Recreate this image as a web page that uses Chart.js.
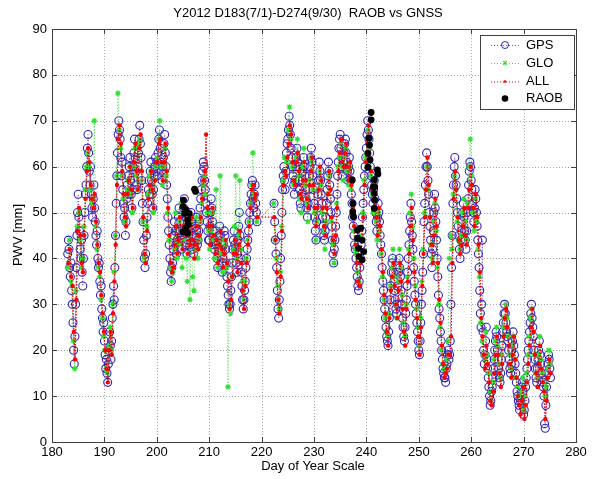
<!DOCTYPE html>
<html>
<head>
<meta charset="utf-8">
<script src="https://cdn.jsdelivr.net/npm/chart.js@4.4.0/dist/chart.umd.min.js"></script>
<style>
  html, body { margin: 0; padding: 0; background: #fff; }
  #wrap { width: 598px; height: 479px; }
</style>
</head>
<body>
<div id="wrap"><canvas id="pwvChart" width="598" height="479"></canvas></div>
<script>
// GPS every 3 hours, GLO and ALL every 6 hours
const gpsStart = 183.0, gpsStep = 0.125;
const gloStart = 183.08, gloStep = 0.25;
const allStart = 183.16, allStep = 0.25;

// GPS PWV [mm], 8 values per day from D183
const gpsPwv = [
  41,44,42,38,36,39,33,30, 26,20,17,23,30,38,45,50, 54,49,46,42,40,44,37,34,   // 183-185
  40,45,50,54,56,60,64,67, 63,59,56,60,54,51,49,53, 56,51,48,45,43,46,40,38,   // 186-188
  39,35,32,34,29,27,24,26, 22,19,16,18,15,13,17,20, 24,21,18,22,27,30,34,31,   // 189-191
  38,45,52,58,63,67,70,68, 66,62,58,61,55,52,49,51, 45,48,53,56,58,54,60,62,   // 192-194
  57,54,51,55,60,63,66,62, 59,56,55,60,63,66,69,65, 62,57,52,48,44,40,38,41,   // 195-197
  45,49,52,55,57,54,59,61, 57,54,51,55,58,60,62,59, 61,58,63,66,68,64,61,59,   // 198-200
  57,60,62,65,67,63,60,56, 53,49,46,43,40,37,35,38, 39,42,45,48,46,43,41,44,   // 201-203
  46,49,51,48,46,44,42,45, 48,51,53,49,46,43,41,44, 47,45,43,47,50,48,45,42,   // 204-206
  41,43,45,47,49,46,43,44, 46,48,51,53,55,57,59,61, 60,57,55,52,50,48,46,44,   // 207-209
  44,47,50,53,51,48,46,43, 42,44,46,43,40,38,42,45, 47,45,42,39,37,40,43,46,   // 210-212
  45,42,39,36,34,32,30,29, 30,33,36,39,42,44,46,43, 42,39,37,41,44,47,50,45,   // 213-215
  40,37,34,31,29,31,33,35, 38,40,42,44,46,48,50,52, 54,56,57,53,51,54,56,52,   // 216-218
  50,48,null,null,null,null,null,null, null,null,null,null,null,null,null,null, // 219-220
  null,null,null,null,null,null,null,null, null,null,null,52,48,44,41,38,       // 221-222
  33,29,27,31,35,40,45,50, 55,58,60,57,55,59,63,65, 66,68,71,69,67,64,62,60,   // 223-225
  58,56,54,57,60,62,64,61, 60,57,55,52,51,54,57,59, 62,60,58,55,53,51,49,52,   // 226-228
  55,58,60,62,64,61,58,55, 52,49,46,44,48,51,54,57, 61,59,57,54,52,49,47,45,   // 229-231
  44,46,49,52,55,58,61,59, 56,53,50,47,44,41,39,42, 44,47,50,54,58,61,64,66,   // 232-234
  67,64,62,60,58,61,63,65, 66,63,61,59,57,60,62,59, 57,54,52,49,47,45,43,42,   // 235-237
  40,38,36,34,33,35,38,40, 43,46,49,52,55,58,60,62, 64,67,70,68,66,63,60,58,   // 238-240
  56,54,52,55,57,53,50,48, 46,49,52,50,48,45,43,41, 38,35,33,31,29,27,25,23,   // 241-243
  22,21,24,27,31,34,37,39, 40,37,35,33,31,29,28,30, 34,37,40,38,36,33,30,27,   // 244-246
  25,23,22,25,28,31,34,37, 40,43,46,49,52,48,45,42, 38,35,32,30,28,26,24,22,   // 247-249
  20,19,22,26,30,33,37,41, 48,52,56,60,63,60,57,54, 50,47,44,41,38,42,46,50,   // 250-252
  54,51,48,44,40,36,32,29, 27,24,22,20,18,16,15,14, 14,13,16,17,19,20,18,19,   // 253-255
  22,30,38,45,52,56,60,62, 58,56,53,50,47,45,42,40, 44,46,48,50,52,49,46,44,   // 256-258
  42,46,50,53,56,59,61,60, 57,55,52,50,48,51,55,53, 50,47,44,41,38,33,28,25,   // 259-261
  30,44,24,20,17,19,22,25, 18,16,14,12,10,8,9,11, 12,14,16,18,20,22,24,23,     // 262-264
  20,18,16,14,13,15,18,21, 24,26,28,30,28,26,24,23, 22,20,18,16,15,17,20,22,   // 265-267
  24,21,19,17,15,13,11,10, 9,8,7,9,10,12,13,11, 6,7,9,12,14,16,18,20,          // 268-270
  22,24,26,28,30,27,25,23, 20,18,16,14,13,16,18,20, 22,19,17,15,14,13,12,10,   // 271-273
  4,3,8,12,15,17,19,18, 16,14                                                  // 274-275
];

// GLONASS PWV [mm], 4 values per day
const gloPwv = [
  38,44,35,34, 22,16,33,47, 50,44,38,40, 47,55,60,63, 60,55,52,53,
  70,47,42,38, 36,31,27,23, 20,16,15,21, 25,20,30,37, 45,58,76,68,
  64,58,53,48, 48,55,57,60, 54,50,60,64, 58,55,65,66, 57,48,40,39,
  47,54,58,59, 55,50,57,60, 62,66,70,60, 56,60,64,58, 50,44,38,35,
  37,42,50,40, 43,48,52,38, 44,50,40,35, 45,31,48,36, 33,42,49,40,
  44,48,52,56, 58,54,50,46, 42,46,50,44, 40,55,38,43, 58,41,37,44,
  43,38,12,30, 28,36,42,47, 58,40,45,57, 42,35,31,35, 40,44,48,52,
  56,63,54,53, 48,null,null,null, null,null,null,null, null,null,null,null, null,52,44,40,
  34,29,37,47, 57,62,59,61, 68,73,66,60, 56,57,62,66, 58,53,50,60,
  64,56,52,48, 57,62,61,55, 50,44,48,55, 59,56,50,46, 42,48,54,58,
  55,48,43,39, 45,52,60,62, 65,60,57,62, 64,59,56,60, 55,50,46,42,
  41,37,35,40, 45,50,57,62, 63,68,64,58, 54,50,53,48, 44,50,46,41,
  36,31,27,24, 23,28,34,38, 42,36,30,27, 35,42,38,32, 26,23,30,36,
  42,50,54,47, 40,34,29,25, 21,27,35,42, 50,55,60,55, 49,43,40,48,
  52,46,38,30, 25,20,17,16, 15,18,22,40, 45,42,54,58, 55,48,44,42,
  45,50,53,48, 44,52,60,66, 58,50,46,53, 48,42,36,26, 22,19,18,24,
  19,15,11,9, 13,18,22,25, 21,17,14,19, 25,27,30,27, 23,19,16,21,
  23,18,14,12, 10,8,11,14, 7,10,15,19, 23,27,29,24, 19,15,14,19,
  23,18,15,13, 10,12,16,20, 17
];

// GPS+GLONASS combined PWV [mm], 4 values per day
const allPwv = [
  39,42,36,34, 24,18,31,46, 51,45,39,37, 45,53,59,64, 61,56,53,51,
  54,48,43,39, 37,32,28,24, 20,16,13,20, 24,19,28,35, 43,56,66,69,
  65,59,54,49, 47,54,57,60, 55,51,61,65, 59,55,64,67, 59,49,41,39,
  46,53,56,59, 55,51,57,61, 61,65,66,61, 57,61,65,59, 51,45,39,37,
  38,43,47,41, 44,49,46,42, 47,51,45,41, 46,43,49,44, 40,43,47,42,
  45,49,53,57, 59,67,51,47, 43,47,51,45, 41,44,39,43, 46,42,38,41,
  44,39,35,29, 31,36,41,44, 41,37,43,46, 39,33,29,34, 39,43,47,51,
  55,56,53,54, 49,null,null,null, null,null,null,null, null,null,null,null, null,49,44,37,
  31,28,36,46, 56,59,58,62, 65,69,67,61, 57,56,61,63, 59,54,53,57,
  61,57,53,51, 56,59,62,56, 51,47,51,55, 60,57,51,47, 45,51,54,59,
  55,49,44,41, 45,51,59,63, 66,61,60,63, 65,60,57,61, 56,51,47,43,
  39,35,34,39, 44,49,56,61, 65,69,65,59, 55,51,54,49, 45,51,47,42,
  37,32,28,24, 21,27,33,36, 39,34,30,27, 33,39,35,29, 24,21,29,35,
  41,47,51,44, 37,31,27,23, 19,25,34,41, 49,55,62,56, 49,43,39,45,
  53,47,39,31, 26,21,17,14, 15,16,19,19, 23,39,53,59, 55,49,44,41,
  43,47,51,45, 43,51,55,60, 56,51,47,54, 49,43,37,27, 23,19,16,21,
  17,13,9,8, 11,15,19,23, 19,15,12,17, 23,27,29,25, 21,17,14,19,
  23,18,14,10, 8,6,9,12, 5,8,13,17, 21,25,29,24, 19,15,12,17,
  21,16,13,11, 5,9,14,18, 15
];

// radiosonde PWV
const raobDays = [205.0, 205.0, 205.1, 205.3, 205.5, 205.6, 205.9, 205.9, 206.0, 206.2, 207.2, 207.4,
  237.3, 237.4, 237.4, 237.5, 238.3, 238.3, 238.5, 238.6, 238.9, 239.2, 239.2, 239.5,
  240.3, 240.3, 240.5, 240.6, 240.7, 240.9, 240.9, 241.3, 241.5, 241.5, 241.5, 241.6, 241.6, 242.1, 242.2];
const raobPwv = [51.3, 45.8, 52.7, 49.8, 46.6, 50.6, 48.4, 45.5, 47.3, 49.8, 55.1, 54.6,
  57.1, 52.0, 50.2, 49.1, 46.2, 44.4, 42.2, 40.4, 46.6, 44.0, 39.7, 41.5,
  62.9, 59.9, 66.2, 64.7, 61.5, 71.8, 70.2, 55.6, 57.1, 54.2, 50.9, 55.6, 52.7, 59.3, 58.4];

const xTicks = [180, 190, 200, 210, 220, 230, 240, 250, 260, 270, 280];
const yTicks = [0, 10, 20, 30, 40, 50, 60, 70, 80, 90];

const chartTitle = 'Y2012 D183(7/1)-D274(9/30)  RAOB vs GNSS';
const xTitle = 'Day of Year Scale';
const yTitle = 'PWV [mm]';
const FONT = '"Liberation Sans", Arial, Helvetica, sans-serif';

function toPoints(start, step, values) {
  return values.map((v, i) => ({ x: start + i * step, y: v }));
}

const series = [
  { label: 'GPS', marker: 'circle' },
  { label: 'GLO', marker: 'star' },
  { label: 'ALL', marker: 'dot' },
  { label: 'RAOB', marker: 'raob' }
];

// grid, box, inner ticks, titles and legend in the matlab style
const matlabFrame = {
  id: 'matlabFrame',
  beforeDatasetsDraw(chart) {
    const { ctx, chartArea: a, scales: { x, y } } = chart;
    ctx.save();
    ctx.strokeStyle = '#a8a8a8';
    ctx.lineWidth = 1;
    ctx.setLineDash([1, 2]);
    xTicks.forEach(v => {
      const px = Math.round(x.getPixelForValue(v)) + 0.5;
      ctx.beginPath(); ctx.moveTo(px, a.top); ctx.lineTo(px, a.bottom); ctx.stroke();
    });
    yTicks.forEach(v => {
      const py = Math.round(y.getPixelForValue(v)) + 0.5;
      ctx.beginPath(); ctx.moveTo(a.left, py); ctx.lineTo(a.right, py); ctx.stroke();
    });
    ctx.restore();
  },
  afterDraw(chart) {
    const { ctx, chartArea: a, scales: { x, y } } = chart;
    ctx.save();
    ctx.strokeStyle = '#404040';
    ctx.lineWidth = 1;
    ctx.strokeRect(Math.round(a.left) + 0.5, Math.round(a.top) + 0.5,
      Math.round(a.right - a.left), Math.round(a.bottom - a.top));
    // inner ticks
    ctx.beginPath();
    xTicks.forEach(v => {
      const px = Math.round(x.getPixelForValue(v)) + 0.5;
      ctx.moveTo(px, a.bottom); ctx.lineTo(px, a.bottom - 5);
      ctx.moveTo(px, a.top); ctx.lineTo(px, a.top + 5);
    });
    yTicks.forEach(v => {
      const py = Math.round(y.getPixelForValue(v)) + 0.5;
      ctx.moveTo(a.left, py); ctx.lineTo(a.left + 5, py);
      ctx.moveTo(a.right, py); ctx.lineTo(a.right - 5, py);
    });
    ctx.stroke();

    // titles
    ctx.fillStyle = '#000';
    ctx.font = '13px ' + FONT;
    ctx.textAlign = 'center';
    ctx.textBaseline = 'middle';
    ctx.fillText(chartTitle, 308, 13);
    ctx.fillText(xTitle, 313, 466);
    ctx.save();
    ctx.translate(18, 235);
    ctx.rotate(-Math.PI / 2);
    ctx.fillText(yTitle, 0, 0);
    ctx.restore();

    // legend
    const lx = 480, ly = 35, lw = 94, lh = 74;
    ctx.fillStyle = '#fff';
    ctx.fillRect(lx, ly, lw, lh);
    ctx.strokeStyle = '#404040';
    ctx.strokeRect(lx + 0.5, ly + 0.5, lw, lh);
    const rows = [45, 63, 81.5, 98.5];
    series.forEach((s, i) => {
      const ds = chart.data.datasets[i];
      const ry = rows[i];
      if (s.marker !== 'raob') {
        ctx.strokeStyle = ds.borderColor;
        ctx.lineWidth = 1;
        ctx.setLineDash([1, 2]);
        ctx.beginPath(); ctx.moveTo(491, ry + 0.5); ctx.lineTo(519, ry + 0.5); ctx.stroke();
        ctx.setLineDash([]);
      }
      if (s.marker === 'circle') {
        ctx.strokeStyle = ds.pointBorderColor;
        ctx.beginPath(); ctx.arc(505, ry, 3.5, 0, Math.PI * 2); ctx.stroke();
      } else if (s.marker === 'star') {
        ctx.strokeStyle = ds.pointBorderColor;
        ctx.beginPath();
        ctx.moveTo(503, ry - 2); ctx.lineTo(507, ry + 2);
        ctx.moveTo(507, ry - 2); ctx.lineTo(503, ry + 2);
        ctx.moveTo(505, ry - 2.5); ctx.lineTo(505, ry + 2.5);
        ctx.stroke();
      } else if (s.marker === 'dot') {
        ctx.fillStyle = ds.pointBackgroundColor;
        ctx.beginPath(); ctx.arc(505, ry, 1.3, 0, Math.PI * 2); ctx.fill();
      } else {
        ctx.fillStyle = '#000';
        ctx.beginPath(); ctx.arc(505, ry, 3.3, 0, Math.PI * 2); ctx.fill();
      }
      ctx.fillStyle = '#000';
      ctx.textAlign = 'left';
      ctx.fillText(s.label, 526, ry);
    });
    ctx.restore();
  }
};

const ctx = document.getElementById('pwvChart').getContext('2d');
const pwvChart = new Chart(ctx, {
  type: 'line',
  data: {
    datasets: [
      {
        label: 'GPS',
        data: toPoints(gpsStart, gpsStep, gpsPwv),
        borderColor: 'rgba(105, 60, 175, 0.9)',
        borderWidth: 1,
        borderDash: [1, 2],
        spanGaps: true,
        pointStyle: 'circle',
        pointRadius: 4,
        pointBorderWidth: 1.1,
        pointBorderColor: '#3324b8',
        pointBackgroundColor: 'rgba(0,0,0,0)',
        order: 4
      },
      {
        label: 'GLO',
        data: toPoints(gloStart, gloStep, gloPwv),
        borderColor: '#40dc40',
        borderWidth: 1,
        borderDash: [1, 2],
        spanGaps: true,
        pointStyle: 'star',
        pointRadius: 2.8,
        pointBorderWidth: 1.2,
        pointBorderColor: '#2fe02f',
        pointBackgroundColor: '#2fe02f',
        order: 3
      },
      {
        label: 'ALL',
        data: toPoints(allStart, allStep, allPwv),
        borderColor: '#e00000',
        borderWidth: 1.3,
        borderDash: [1.5, 1.5],
        spanGaps: true,
        pointStyle: 'circle',
        pointRadius: 2.2,
        pointBorderWidth: 0,
        pointBackgroundColor: '#ff0000',
        order: 2
      },
      {
        label: 'RAOB',
        data: raobDays.map((d, i) => ({ x: d, y: raobPwv[i] })),
        showLine: false,
        pointStyle: 'circle',
        pointRadius: 3.4,
        pointBorderWidth: 0,
        pointBackgroundColor: '#000',
        borderColor: '#000',
        order: 1
      }
    ]
  },
  options: {
    responsive: false,
    animation: false,
    layout: { padding: { top: 29, right: 22, left: 0, bottom: 0 } },
    plugins: { legend: { display: false }, tooltip: { enabled: false }, title: { display: false } },
    elements: { line: { tension: 0 } },
    scales: {
      x: {
        type: 'linear', min: 180, max: 280,
        afterBuildTicks: s => { s.ticks = xTicks.map(v => ({ value: v })); },
        afterFit: s => { s.height = 37; },
        grid: { display: false, drawTicks: false },
        border: { display: false },
        ticks: { autoSkip: false, maxRotation: 0, padding: 3, color: '#000', font: { family: FONT, size: 13 } }
      },
      y: {
        min: 0, max: 90,
        afterBuildTicks: s => { s.ticks = yTicks.map(v => ({ value: v })); },
        afterFit: s => { s.width = 52; },
        grid: { display: false, drawTicks: false },
        border: { display: false },
        ticks: { padding: 5, color: '#000', font: { family: FONT, size: 13 } }
      }
    }
  },
  plugins: [matlabFrame]
});
</script>
</body>
</html>
